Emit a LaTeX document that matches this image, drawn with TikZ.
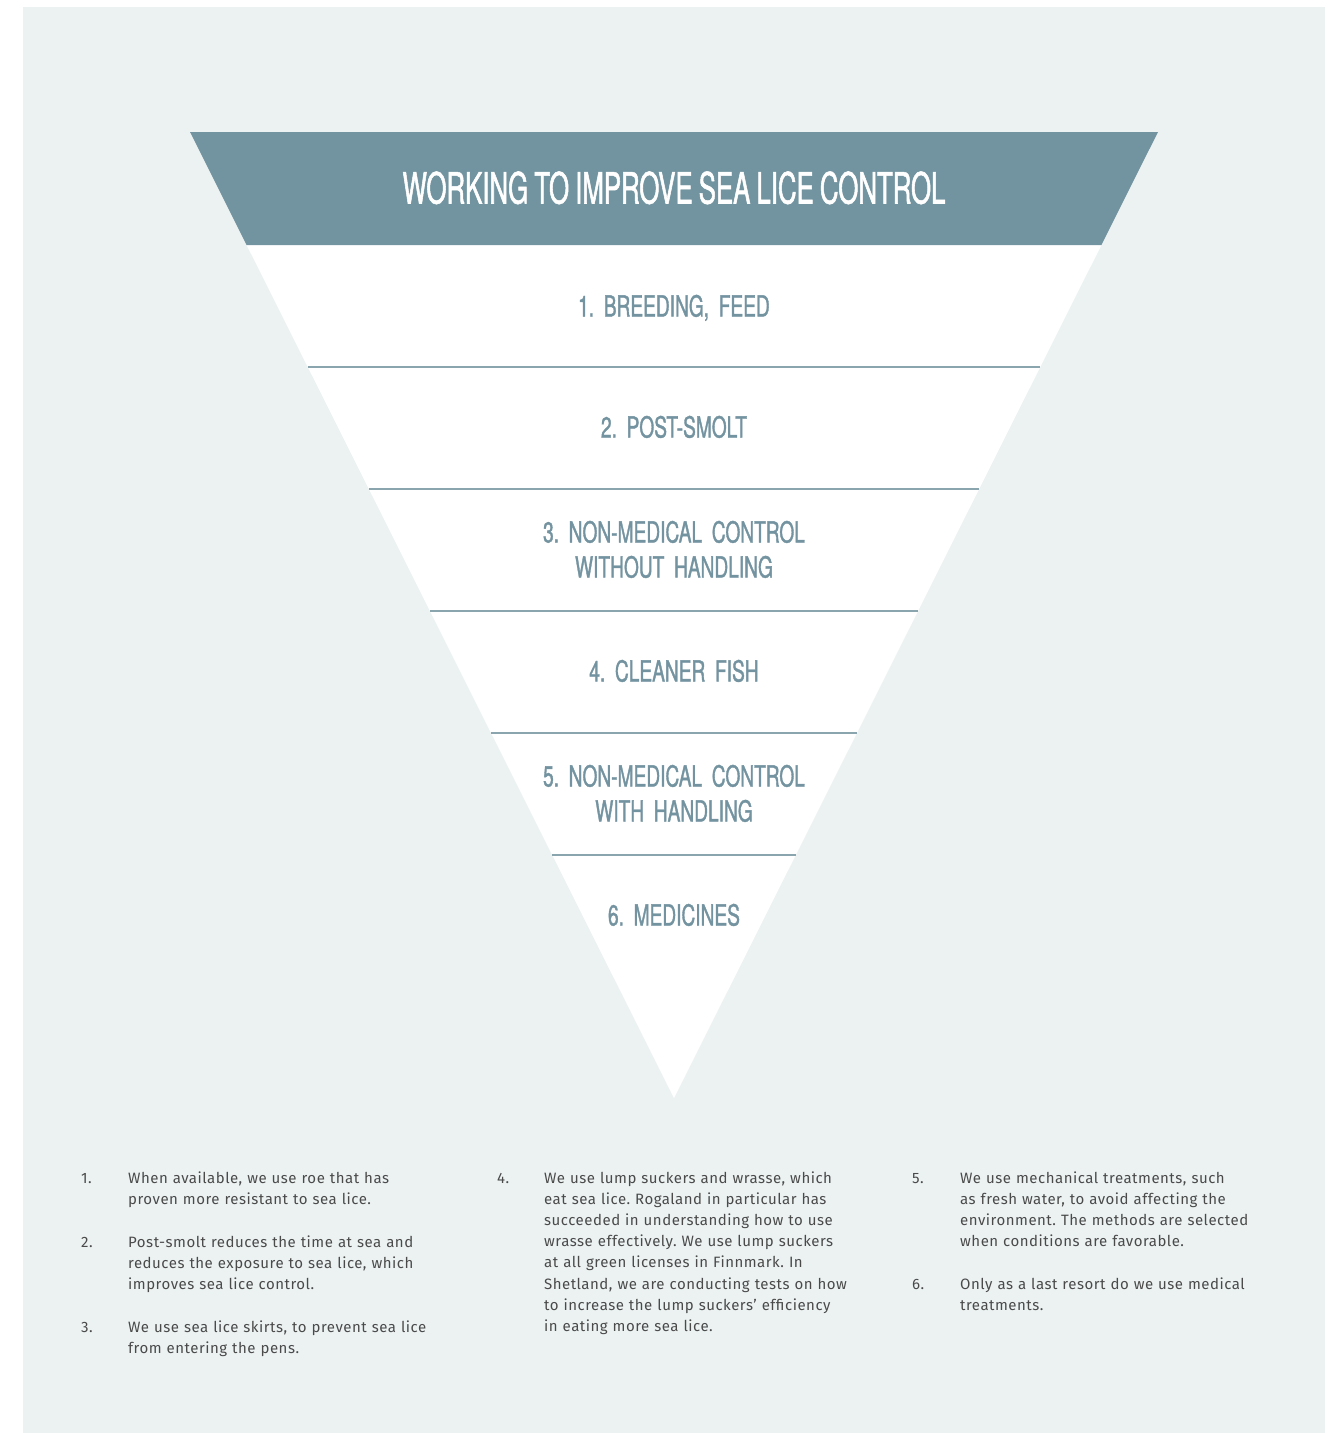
\documentclass[tikz,border=0pt]{standalone}
\usepackage{fontspec}
\setmainfont[LetterSpace=3.4]{Fira Sans}
\newfontfamily\titlefont[FakeStretch=0.6,FakeBold=1.2,WordSpace=0.85]{TeX Gyre Heros}
\newfontfamily\levelfont[FakeStretch=0.66,FakeBold=1.2,WordSpace=0.7]{TeX Gyre Heros}
\definecolor{panel}{HTML}{ECF2F2}
\definecolor{head}{HTML}{7194A0}
\definecolor{lab}{HTML}{7393A0}
\definecolor{rule}{HTML}{8AA5AE}
\definecolor{body}{HTML}{4A4A4A}
\tikzset{
  title/.style={font=\titlefont\fontsize{43}{43}\selectfont, text=white, inner sep=0pt, anchor=base},
  level/.style={font=\levelfont\fontsize{29}{35}\selectfont\frenchspacing, text=lab, inner sep=0pt, anchor=base, align=center, text width=500pt},
  num/.style={font=\fontsize{15}{21.2}\selectfont, text=body, inner sep=0pt, anchor=base west},
  item/.style={font=\fontsize{15}{21.2}\selectfont\frenchspacing, text=body, inner sep=0pt, anchor=base west, align=left, text width=380pt},
  divider/.style={draw=rule, line width=1.4pt}
}
\begin{document}
\begin{tikzpicture}[x=1pt,y=-1pt]
\useasboundingbox (0,0) rectangle (1341,1433);
\fill[white] (0,0) rectangle (1341,1433);
\fill[panel] (23,7) rectangle (1325,1433);
% pyramid
\fill[white] (190,132) -- (1158,132) -- (674,1098) -- cycle;
\fill[head] (190,132) -- (1158,132) -- (1101.4,245) -- (246.6,245) -- cycle;
\draw[divider] (307.7,367) -- (1040.3,367);
\draw[divider] (368.9,489) -- (979.1,489);
\draw[divider] (430.0,611) -- (918.0,611);
\draw[divider] (491.1,733) -- (856.9,733);
\draw[divider] (552.2,855) -- (795.8,855);
\node[title] (t) at (674,203.5) {WORKING TO IMPROVE SEA LICE CONTROL};
\node[level] (l1) at (674,316.5) {1. BREEDING, FEED};
\node[level] (l2) at (674,437.5) {2. POST-SMOLT};
\node[level] (l3) at (674,542.5) {3. NON-MEDICAL CONTROL\\WITHOUT HANDLING};
\node[level] (l4) at (674,681.5) {4. CLEANER FISH};
\node[level] (l5) at (674,786.5) {5. NON-MEDICAL CONTROL\\WITH HANDLING};
\node[level] (l6) at (674,925.5) {6. MEDICINES};
% notes
\node[num] (n1) at (81,1183) {1.};
\node[item] (i1) at (128,1183) {When available, we use roe that has\\proven more resistant to sea lice.};
\node[num] (n2) at (81,1247) {2.};
\node[item] (i2) at (128,1247) {Post-smolt reduces the time at sea and\\reduces the exposure to sea lice, which\\improves sea lice control.};
\node[num] (n3) at (81,1332) {3.};
\node[item] (i3) at (128,1332) {We use sea lice skirts, to prevent sea lice\\from entering the pens.};
\node[num] (n4) at (497,1183) {4.};
\node[item] (i4) at (544,1183) {We use lump suckers and wrasse, which\\eat sea lice. Rogaland in particular has\\succeeded in understanding how to use\\wrasse effectively. We use lump suckers\\at all green licenses in Finnmark. In\\Shetland, we are conducting tests on how\\to increase the lump suckers' efficiency\\in eating more sea lice.};
\node[num] (n5) at (912,1183) {5.};
\node[item] (i5) at (960,1183) {We use mechanical treatments, such\\as fresh water, to avoid affecting the\\environment. The methods are selected\\when conditions are favorable.};
\node[num] (n6) at (912,1289) {6.};
\node[item] (i6) at (960,1289) {Only as a last resort do we use medical\\treatments.};
\end{tikzpicture}
\end{document}
